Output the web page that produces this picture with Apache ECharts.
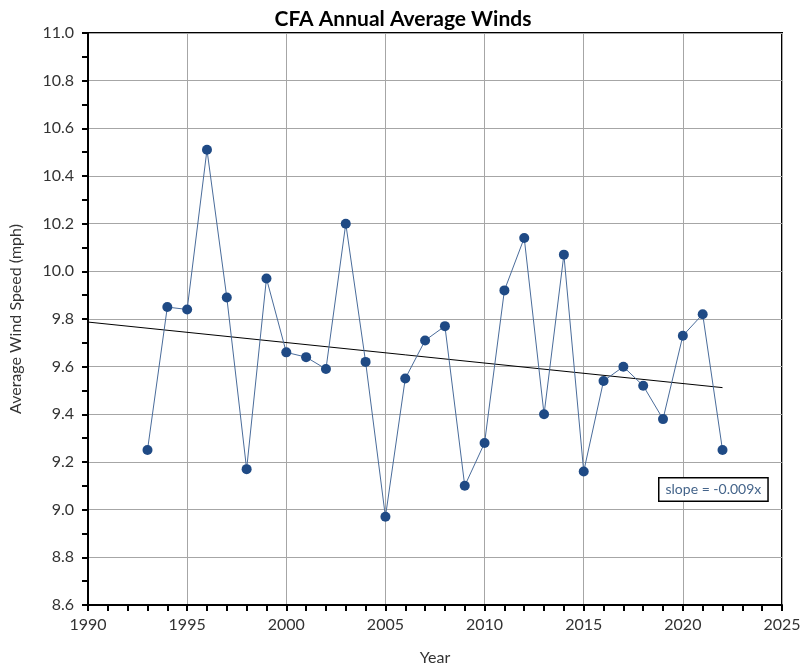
<!DOCTYPE html>
<html>
<head>
<meta charset="utf-8">
<script src="https://cdn.jsdelivr.net/npm/echarts@6/dist/echarts.min.js"></script>
<style>html,body{margin:0;padding:0;background:#fff}#c{width:806px;height:671px}</style>
</head>
<body>
<div id="c"></div>
<script>
var years = [1993,1994,1995,1996,1997,1998,1999,2000,2001,2002,2003,2004,2005,2006,2007,2008,2009,2010,2011,2012,2013,2014,2015,2016,2017,2018,2019,2020,2021,2022];
var winds = [9.25,9.85,9.84,10.51,9.89,9.17,9.97,9.66,9.64,9.59,10.20,9.62,8.97,9.55,9.71,9.77,9.10,9.28,9.92,10.14,9.40,10.07,9.16,9.54,9.60,9.52,9.38,9.73,9.82,9.25];
var trendStart = 1990, trendEnd = 2022;
var slopeText = 'slope = -0.009x';

// least-squares trendline from the data
var n = years.length, sx = 0, sy = 0, sxx = 0, sxy = 0;
for (var i = 0; i < n; i++) { sx += years[i]; sy += winds[i]; sxx += years[i]*years[i]; sxy += years[i]*winds[i]; }
var m = (n*sxy - sx*sy) / (n*sxx - sx*sx);
var b = (sy - m*sx) / n;
var trend = [[trendStart, m*trendStart + b], [trendEnd, m*trendEnd + b]];

var data = years.map(function (y, i) { return [y, winds[i]]; });
var font = 'Lato, "Open Sans", sans-serif';

var chart = echarts.init(document.getElementById('c'));
chart.setOption({
  backgroundColor: '#fff',
  animation: false,
  title: {
    text: 'CFA Annual Average Winds',
    left: 'center', top: 4,
    textStyle: { fontFamily: font, fontSize: 21, fontWeight: 'bold', color: '#000' }
  },
  grid: { left: 88, top: 33, right: 24, bottom: 66, show: true, borderColor: '#000', borderWidth: 2, backgroundColor: 'transparent' },
  xAxis: {
    type: 'value', min: 1990, max: 2025, interval: 5,
    name: 'Year', nameLocation: 'middle', nameGap: 45,
    nameTextStyle: { fontFamily: font, fontSize: 16, color: '#333' },
    axisLine: { show: true, onZero: false, lineStyle: { color: '#000', width: 2 } },
    axisTick: { show: true, inside: false, length: 6, lineStyle: { color: '#000', width: 2 } },
    minorTick: { show: true, splitNumber: 5, length: 6, lineStyle: { color: '#000', width: 2 } },
    axisLabel: { fontFamily: font, fontSize: 16, color: '#333', margin: 12,
      formatter: function (v) { return String(v); } },
    splitLine: { show: true, lineStyle: { color: '#a6a6a6', width: 1 } }
  },
  yAxis: {
    type: 'value', min: 8.6, max: 11.0, interval: 0.2,
    name: 'Average Wind Speed (mph)', nameLocation: 'middle', nameGap: 64,
    nameTextStyle: { fontFamily: font, fontSize: 16, color: '#333' },
    axisLine: { show: true, lineStyle: { color: '#000', width: 2 } },
    axisTick: { show: true, inside: false, length: 6, lineStyle: { color: '#000', width: 2 } },
    minorTick: { show: true, splitNumber: 2, length: 6, lineStyle: { color: '#000', width: 2 } },
    axisLabel: { fontFamily: font, fontSize: 16, color: '#333', margin: 14,
      formatter: function (v) { return v.toFixed(1); } },
    splitLine: { show: true, lineStyle: { color: '#a6a6a6', width: 1 } }
  },
  graphic: [{
    type: 'text', left: 658, top: 477,
    style: {
      text: slopeText, fill: '#44648a', font: '14px ' + font,
      backgroundColor: '#fff', borderColor: '#000', borderWidth: 1.5,
      padding: [4, 6, 4, 6]
    }, z: 100
  }],
  series: [
    {
      type: 'line', data: trend, symbol: 'none', silent: true,
      lineStyle: { color: '#000', width: 1 }, z: 3
    },
    {
      type: 'line', data: data, symbol: 'circle', symbolSize: 10,
      lineStyle: { color: '#4a6c9b', width: 1 },
      itemStyle: { color: '#1f4a85' }, z: 4
    }
  ]
});
</script>
</body>
</html>
